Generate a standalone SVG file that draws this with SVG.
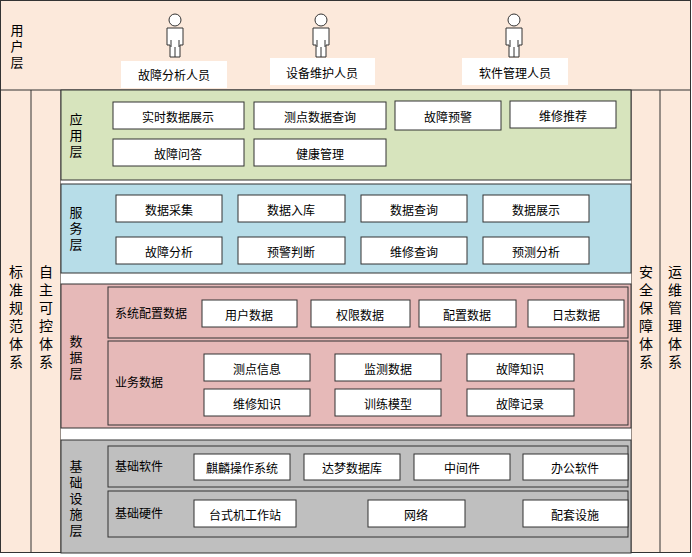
<svg xmlns="http://www.w3.org/2000/svg" width="692" height="557" viewBox="0 0 692 557">
<style>
text{font-family:"Noto Sans CJK SC","Liberation Sans",sans-serif;font-size:12px;fill:#000}
.b{fill:#fff;stroke:#333;stroke-width:1}
.t{text-anchor:middle;dominant-baseline:central}
.l{stroke:#333;stroke-width:1}
.v{writing-mode:vertical-rl;text-anchor:middle;font-size:13px;letter-spacing:3px}
.side{writing-mode:vertical-rl;text-anchor:middle;font-size:14px;letter-spacing:4px}
</style>
<defs>
<g id="p"><circle cx="0" cy="-15" r="6" fill="#fff" stroke="#333"/><path d="M-8,-7 H8 V10 H5 V22 H-5 V10 H-8 Z M-4,5 V12 M4,5 V12 M0,12 V22" fill="#fff" stroke="#333"/></g>
</defs>
<rect x="0.5" y="0.5" width="690" height="552" fill="#FCE9DB" stroke="#333"/>
<g id="user">
<line class="l" x1="0" y1="90" x2="691" y2="90"/>
<text class="v" x="17" y="48">用户层</text>
<use href="#p" x="175" y="35"/><use href="#p" x="321" y="35"/><use href="#p" x="514" y="35"/>
<rect x="121" y="61" width="106" height="27" fill="#fff"/><text class="t" x="174" y="74">故障分析人员</text>
<rect x="270" y="58" width="105" height="27" fill="#fff"/><text class="t" x="322" y="72">设备维护人员</text>
<rect x="462" y="58" width="106" height="27" fill="#fff"/><text class="t" x="515" y="72">软件管理人员</text>
</g>
<g id="sides">
<line class="l" x1="31" y1="90" x2="31" y2="553"/><line class="l" x1="61" y1="90" x2="61" y2="553"/>
<line class="l" x1="631" y1="90" x2="631" y2="553"/><line class="l" x1="660" y1="90" x2="660" y2="553"/>
<text class="side" x="16" y="319">标准规范体系</text>
<text class="side" x="46" y="319">自主可控体系</text>
<text class="side" x="646" y="319">安全保障体系</text>
<text class="side" x="675" y="319">运维管理体系</text>
</g>
<rect x="61" y="180" width="570" height="4" fill="#fff"/>
<rect x="61" y="273" width="570" height="11" fill="#fff"/>
<rect x="61" y="428" width="570" height="12" fill="#fff"/>
<g id="app">
<rect x="61" y="90" width="570" height="90" fill="#D7E4BD" stroke="#333"/>
<text class="v" x="76" y="137">应用层</text>
<rect class="b" x="113" y="102" width="131" height="27"/><text class="t" x="178" y="116">实时数据展示</text>
<rect class="b" x="254" y="102" width="132" height="27"/><text class="t" x="320" y="116">测点数据查询</text>
<rect class="b" x="395" y="101" width="106" height="29"/><text class="t" x="448" y="116">故障预警</text>
<rect class="b" x="510" y="101" width="106" height="27"/><text class="t" x="563" y="115">维修推荐</text>
<rect class="b" x="113" y="139" width="131" height="27"/><text class="t" x="178" y="153">故障问答</text>
<rect class="b" x="254" y="139" width="132" height="27"/><text class="t" x="320" y="153">健康管理</text>
</g>
<g id="service">
<rect x="61" y="184" width="570" height="89" fill="#B7DDE8" stroke="#333"/>
<text class="v" x="76" y="230">服务层</text>
<rect class="b" x="116" y="195" width="106" height="27"/><text class="t" x="169" y="209">数据采集</text>
<rect class="b" x="238" y="195" width="107" height="27"/><text class="t" x="291" y="209">数据入库</text>
<rect class="b" x="361" y="195" width="106" height="27"/><text class="t" x="414" y="209">数据查询</text>
<rect class="b" x="483" y="195" width="106" height="27"/><text class="t" x="536" y="209">数据展示</text>
<rect class="b" x="116" y="237" width="106" height="27"/><text class="t" x="169" y="251">故障分析</text>
<rect class="b" x="238" y="237" width="107" height="27"/><text class="t" x="291" y="251">预警判断</text>
<rect class="b" x="361" y="237" width="106" height="27"/><text class="t" x="414" y="251">维修查询</text>
<rect class="b" x="483" y="237" width="106" height="27"/><text class="t" x="536" y="251">预测分析</text>
</g>
<g id="data">
<rect x="61" y="284" width="570" height="144" fill="#E6B9B8" stroke="#333"/>
<text class="v" x="76" y="359">数据层</text>
<rect x="108" y="287" width="520" height="51" fill="#E6B9B8" stroke="#333"/>
<rect x="108" y="341" width="520" height="84" fill="#E6B9B8" stroke="#333"/>
<text x="115" y="318">系统配置数据</text><text x="115" y="387">业务数据</text>
<rect class="b" x="202" y="300" width="95" height="27"/><text class="t" x="249" y="314">用户数据</text>
<rect class="b" x="311" y="300" width="99" height="27"/><text class="t" x="360" y="314">权限数据</text>
<rect class="b" x="419" y="300" width="97" height="27"/><text class="t" x="467" y="314">配置数据</text>
<rect class="b" x="528" y="300" width="96" height="27"/><text class="t" x="576" y="314">日志数据</text>
<rect class="b" x="204" y="354" width="106" height="27"/><text class="t" x="257" y="368">测点信息</text>
<rect class="b" x="335" y="354" width="106" height="27"/><text class="t" x="388" y="368">监测数据</text>
<rect class="b" x="467" y="354" width="107" height="27"/><text class="t" x="520" y="368">故障知识</text>
<rect class="b" x="204" y="389" width="106" height="27"/><text class="t" x="257" y="403">维修知识</text>
<rect class="b" x="335" y="389" width="106" height="27"/><text class="t" x="388" y="403">训练模型</text>
<rect class="b" x="467" y="389" width="107" height="27"/><text class="t" x="520" y="403">故障记录</text>
</g>
<g id="infra">
<rect x="61" y="440" width="570" height="113" fill="#BFBFBF" stroke="#333"/>
<text class="v" x="76" y="500">基础设施层</text>
<rect x="108" y="446" width="520" height="41" fill="#BFBFBF" stroke="#333"/>
<rect x="108" y="491" width="520" height="46" fill="#BFBFBF" stroke="#333"/>
<text x="115" y="471">基础软件</text><text x="115" y="518">基础硬件</text>
<rect class="b" x="194" y="454" width="96" height="26"/><text class="t" x="242" y="467">麒麟操作系统</text>
<rect class="b" x="304" y="454" width="96" height="26"/><text class="t" x="352" y="467">达梦数据库</text>
<rect class="b" x="414" y="454" width="96" height="26"/><text class="t" x="462" y="467">中间件</text>
<rect class="b" x="523" y="454" width="105" height="26"/><text class="t" x="575" y="467">办公软件</text>
<rect class="b" x="194" y="500" width="102" height="27"/><text class="t" x="245" y="514">台式机工作站</text>
<rect class="b" x="368" y="500" width="97" height="27"/><text class="t" x="416" y="514">网络</text>
<rect class="b" x="523" y="500" width="105" height="27"/><text class="t" x="575" y="514">配套设施</text>
</g>
</svg>
